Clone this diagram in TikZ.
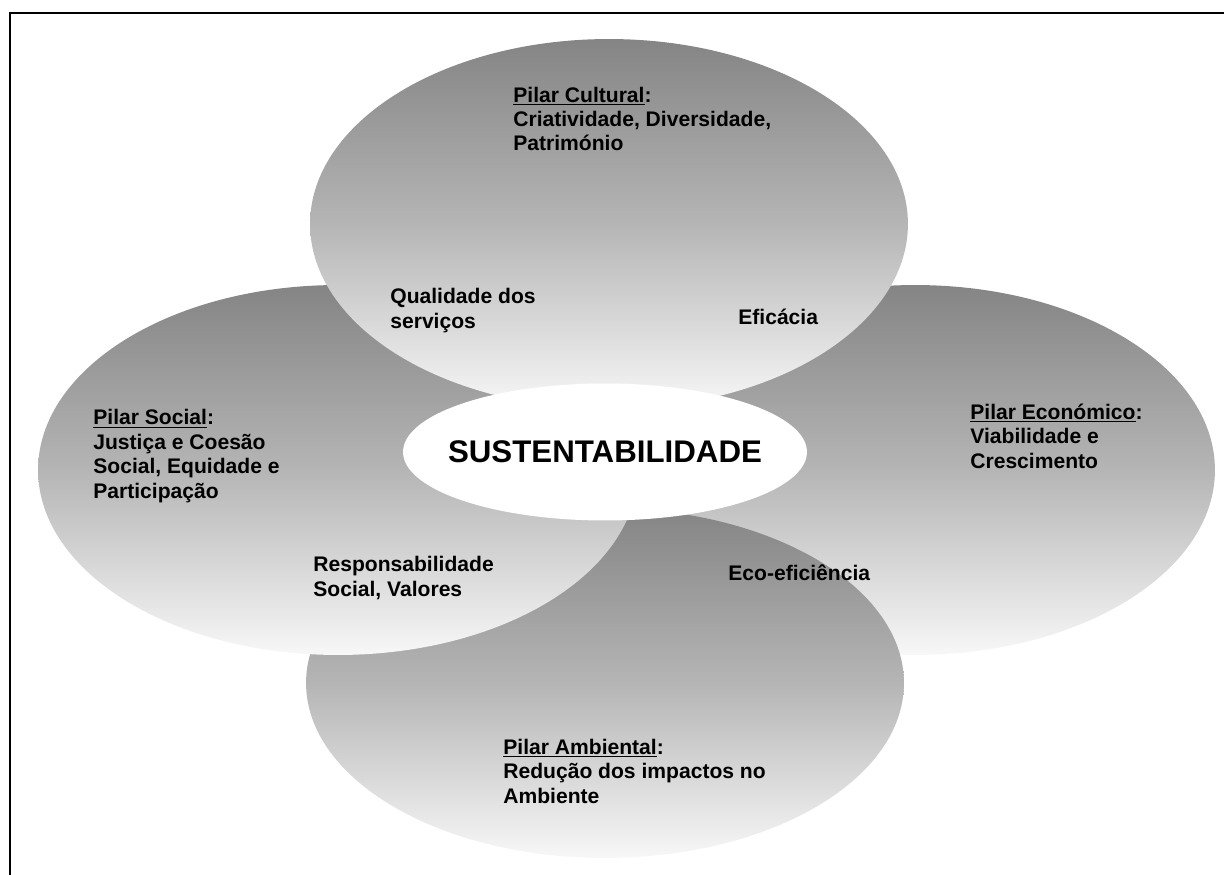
\documentclass[tikz,border=0pt]{standalone}
\usepackage{fontspec}
\setmainfont{Liberation Sans}
\usetikzlibrary{shapes.geometric}
\newcommand{\pilarhead}[1]{\underline{#1}:}

\begin{document}
\begin{tikzpicture}[x=0.02cm,y=-0.02cm,
  pillar/.style={ellipse,inner sep=0pt,minimum width=12cm,minimum height=7.4cm,top color=black!48,bottom color=white!97!black,middle color=black!29},
  core/.style={ellipse,inner sep=0pt,fill=white,minimum width=8.08cm,minimum height=2.74cm},
  pillartext/.style={anchor=base west,align=left,inner sep=0pt,font=\bfseries\fontsize{12}{13.9}\selectfont}]
\clip (0,0) rectangle (1224,875);
\draw[line width=1.1pt] (10,13) rectangle (1250,900);
\node[pillar] (economico) at (915,470) {};
\node[pillar,minimum width=11.96cm,minimum height=7cm] (ambiental) at (605,683) {};
\node[pillar] (social) at (338,470) {};
\node[pillar,minimum width=11.96cm] (cultural) at (609,224) {};
\node[core] (core) at (605,452) {};
\node[font=\bfseries\fontsize{17.8}{20}\selectfont] (titulo) at (core) {SUSTENTABILIDADE};
\node[pillartext] (culturaltxt) at (513,151) {\pilarhead{Pilar Cultural}\\Criatividade, Diversidade,\\Património};
\node[pillartext] (qualidade) at (390,328) {Qualidade dos\\serviços};
\node[pillartext] (eficacia) at (738,324) {Eficácia};
\node[pillartext] (economicotxt) at (970,468) {\pilarhead{Pilar Económico}\\Viabilidade e\\Crescimento};
\node[pillartext] (socialtxt) at (93,498) {\pilarhead{Pilar Social}\\Justiça e Coesão\\Social, Equidade e\\Participação};
\node[pillartext] (responsabilidade) at (313,596) {Responsabilidade\\Social, Valores};
\node[pillartext] (ecoeficiencia) at (728,580) {Eco-eficiência};
\node[pillartext] (ambientaltxt) at (503,803) {\pilarhead{Pilar Ambiental}\\Redução dos impactos no\\Ambiente};
\end{tikzpicture}
\end{document}
